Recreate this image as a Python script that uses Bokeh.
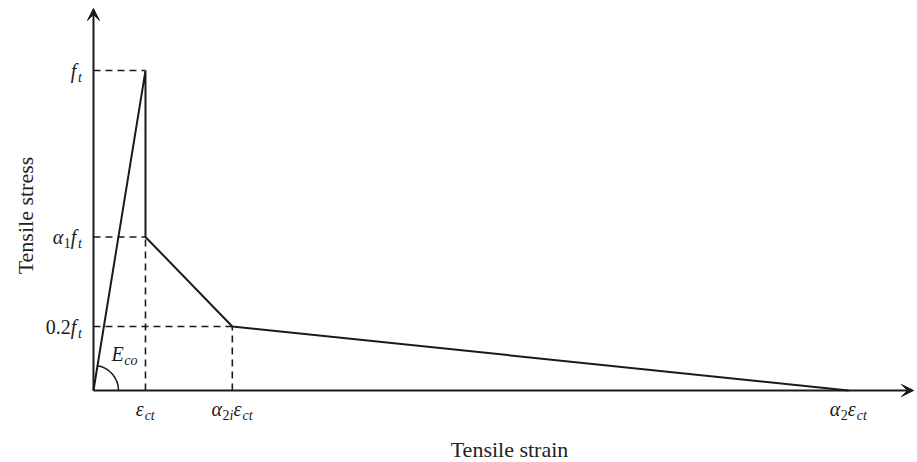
import math
from bokeh.plotting import figure
from bokeh.models import Range1d, Arrow, VeeHead, ColumnDataSource, LabelSet, Label
from bokeh.embed import file_html
from bokeh.resources import INLINE

# ---------------- data (strain in units of eps_ct, stress in units of f_t) ----------------
strain_ticks = [1.0, 2.67, 14.52]      # eps_ct, alpha2i*eps_ct, alpha2*eps_ct
stress_ticks = [1.0, 0.48, 0.2]        # f_t, alpha1*f_t, 0.2*f_t
curve_x = [0.0, 1.0, 1.0, 2.67, 14.52]
curve_y = [0.0, 1.0, 0.48, 0.2, 0.0]
x_title = "Tensile strain"
y_title = "Tensile stress"
# label pieces: (text, kind) kind: M=main italic, N=main upright, s=sub italic, n=sub upright
y_tick_labels = [
    [("f", "M"), ("t", "s")],
    [("α", "M"), ("1", "n"), ("f", "M"), ("t", "s")],
    [("0.2", "N"), ("f", "M"), ("t", "s")],
]
x_tick_labels = [
    [("ε", "M"), ("ct", "s")],
    [("α", "M"), ("2", "n"), ("i", "s"), ("ε", "M"), ("ct", "s")],
    [("α", "M"), ("2", "n"), ("ε", "M"), ("ct", "s")],
]
modulus_label = [("E", "M"), ("co", "s")]

# ---------------- layout / style ----------------
W, H = 917, 462
XLO, XHI = -1.788, 15.846     # view window (axes drawn inside the frame)
YLO, YHI = -0.225, 1.219
AX_X_END, AX_Y_END = 15.77, 1.194
MAIN, SUB, TITLE = 20, 14, 22
FONT = "Liberation Serif"
INK = "#1a1a1a"

p = figure(width=W, height=H, output_backend="svg", toolbar_location=None,
           x_range=Range1d(XLO, XHI), y_range=Range1d(YLO, YHI),
           min_border_left=0, min_border_bottom=0, min_border_top=0, min_border_right=0)
p.outline_line_color = None
p.grid.visible = False
p.axis.visible = False
p.background_fill_color = "white"
p.border_fill_color = "white"

# axes with arrow heads
for xe, ye in ((AX_X_END, 0), (0, AX_Y_END)):
    p.add_layout(Arrow(x_start=0, y_start=0, x_end=xe, y_end=ye, line_width=2, line_color=INK,
                       end=VeeHead(size=12, fill_color=INK, line_color=INK, line_width=1)))

# dashed guide lines
hx0 = [0, 0, 0]
hx1 = [strain_ticks[0], strain_ticks[0], strain_ticks[1]]
hy = [stress_ticks[0], stress_ticks[1], stress_ticks[2]]
p.segment(x0=hx0, y0=hy, x1=hx1, y1=hy, line_color=INK, line_width=1.6, line_dash="7 5")
vx = [strain_ticks[0], strain_ticks[1]]
vy1 = [stress_ticks[1], stress_ticks[2]]
p.segment(x0=vx, y0=[0, 0], x1=vx, y1=vy1, line_color=INK, line_width=1.6, line_dash="7 5")

# constitutive curve
p.line(curve_x, curve_y, line_color=INK, line_width=2)

# modulus arc
px_x, px_y = W / (XHI - XLO), H / (YHI - YLO)
theta = math.atan2(curve_y[1] * px_y, curve_x[1] * px_x)
p.arc(x=[0], y=[0], radius=25, radius_units="screen", start_angle=0, end_angle=theta,
      line_color=INK, line_width=1.5)

# ---------------- composed math labels ----------------
EM = {"f": 0.36, "t": 0.32, "c": 0.44, "o": 0.5, "i": 0.3, "E": 0.64, "α": 0.55, "ε": 0.45,
      "0": 0.5, "1": 0.5, "2": 0.5, ".": 0.25}
KIND = {"M": (MAIN, "italic", 0), "N": (MAIN, "normal", 0), "s": (SUB, "italic", 4), "n": (SUB, "normal", 4)}

def width(pieces):
    return sum(sum(EM.get(ch, 0.5) for ch in t) * KIND[k][0] for t, k in pieces)

groups = {}
def place(pieces, x, y, x0, y0):
    cur = x0
    for t, k in pieces:
        size, style, dy = KIND[k]
        g = groups.setdefault((size, style), dict(x=[], y=[], text=[], xo=[], yo=[]))
        g["x"].append(x); g["y"].append(y); g["text"].append(t)
        g["xo"].append(cur); g["yo"].append(-(y0 + dy))
        cur += sum(EM.get(ch, 0.5) for ch in t) * size

for pieces, yv in zip(y_tick_labels, stress_ticks):
    place(pieces, 0, yv, -11 - width(pieces), 7)
for pieces, xv in zip(x_tick_labels, strain_ticks):
    place(pieces, xv, 0, -width(pieces) / 2, 25)
place(modulus_label, 0, 0, 18, -30)

for (size, style), g in groups.items():
    src = ColumnDataSource(g)
    p.add_layout(LabelSet(x="x", y="y", text="text", x_offset="xo", y_offset="yo", source=src,
                          text_font=FONT, text_font_size=f"{size}px", text_font_style=style,
                          text_align="left", text_baseline="alphabetic", text_color=INK))

# axis titles
p.add_layout(Label(x=AX_X_END / 2, y=0, x_offset=6, y_offset=-59, text=x_title, text_font=FONT,
                   text_font_size=f"{TITLE}px", text_align="center", text_baseline="alphabetic",
                   text_color="#222222"))
p.add_layout(Label(x=0, y=AX_Y_END / 2, x_offset=-68, y_offset=-16, angle=math.pi / 2, text=y_title,
                   text_font=FONT, text_font_size=f"{TITLE}px", text_align="center",
                   text_baseline="alphabetic", text_color="#222222"))

open("out.html", "w").write(file_html(p, INLINE))
